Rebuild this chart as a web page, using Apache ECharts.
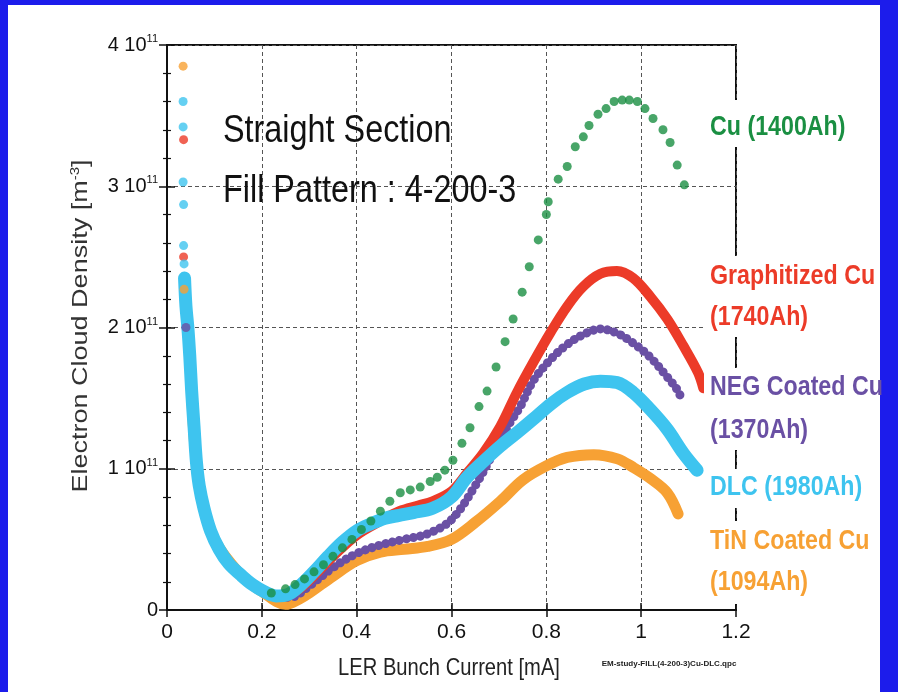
<!DOCTYPE html>
<html><head><meta charset="utf-8">
<script src="https://cdn.jsdelivr.net/npm/echarts@6/dist/echarts.min.js"></script>
<style>
html,body{margin:0;padding:0;background:#1c1ceb;}
#c{width:898px;height:692px;background:#fff;box-shadow:inset 8px 5px 0 0 #1c1ceb, inset -18px 0 0 0 #1c1ceb;}
</style>
</head><body><div id="c"></div>
<script>
// values in units of 10^11 m^-3, x in mA
const xTickLabels = ['0','0.2','0.4','0.6','0.8','1','1.2'];
const yTickLabels = ['0','1','2','3','4'];

const cyanTop = [[0.034,3.6],[0.034,3.42],[0.034,3.03],[0.035,2.87],[0.035,2.58],[0.036,2.45]];
const redTop = [[0.035,3.33],[0.035,2.5]];
const orangeTop = [[0.034,3.85],[0.036,2.27]];
const purpleTop = [[0.04,2.0]];

const cyanCurve = [[0.037,2.35],[0.040,2.15],[0.044,2.0],[0.048,1.8],[0.052,1.55],[0.057,1.3],[0.062,1.05],[0.068,0.88],[0.078,0.72],[0.092,0.56],[0.11,0.43],[0.13,0.33],[0.155,0.25],[0.18,0.18],[0.205,0.13],[0.23,0.10],[0.255,0.11],[0.28,0.17],[0.31,0.27],[0.34,0.38],[0.37,0.48],[0.40,0.56],[0.43,0.61],[0.46,0.65],[0.49,0.67],[0.52,0.69],[0.56,0.72],[0.60,0.80],[0.633,0.94],[0.67,1.06],[0.703,1.16],[0.74,1.26],[0.772,1.35],[0.81,1.46],[0.844,1.54],[0.88,1.60],[0.914,1.62],[0.949,1.61],[0.983,1.54],[1.019,1.42],[1.055,1.28],[1.089,1.11],[1.118,0.99]];

const redCurve = [[0.038,2.3],[0.045,1.95],[0.052,1.55],[0.062,1.05],[0.078,0.72],[0.11,0.43],[0.155,0.25],[0.205,0.13],[0.24,0.10],[0.27,0.13],[0.30,0.21],[0.35,0.38],[0.40,0.53],[0.45,0.63],[0.49,0.70],[0.53,0.74],[0.56,0.77],[0.60,0.84],[0.633,0.97],[0.667,1.11],[0.703,1.30],[0.738,1.54],[0.772,1.75],[0.808,1.96],[0.844,2.15],[0.878,2.29],[0.914,2.38],[0.949,2.40],[0.983,2.35],[1.019,2.22],[1.055,2.06],[1.089,1.87],[1.12,1.68],[1.131,1.57]];

const purpleCurve = [[0.040,2.0],[0.048,1.8],[0.057,1.3],[0.068,0.88],[0.092,0.56],[0.13,0.33],[0.18,0.18],[0.23,0.10],[0.26,0.09],[0.30,0.17],[0.35,0.30],[0.40,0.40],[0.45,0.46],[0.50,0.50],[0.55,0.54],[0.60,0.64],[0.65,0.88],[0.696,1.16],[0.724,1.33],[0.745,1.44],[0.772,1.62],[0.808,1.77],[0.844,1.88],[0.878,1.95],[0.914,1.99],[0.949,1.96],[0.983,1.89],[1.019,1.79],[1.055,1.65],[1.076,1.56],[1.086,1.49]];

const orangeCurve = [[0.037,2.27],[0.048,1.8],[0.062,1.05],[0.092,0.56],[0.155,0.25],[0.205,0.12],[0.25,0.04],[0.28,0.08],[0.30,0.12],[0.35,0.24],[0.40,0.35],[0.45,0.41],[0.50,0.43],[0.55,0.45],[0.60,0.50],[0.65,0.62],[0.703,0.77],[0.75,0.92],[0.80,1.02],[0.844,1.08],[0.90,1.10],[0.95,1.07],[0.983,1.01],[1.02,0.93],[1.055,0.83],[1.078,0.68]];

const greenPts = [[0.22,0.12],[0.25,0.15],[0.27,0.18],[0.29,0.22],[0.31,0.27],[0.33,0.32],[0.35,0.38],[0.37,0.44],[0.39,0.50],[0.41,0.57],[0.43,0.63],[0.45,0.70],[0.47,0.77],[0.492,0.83],[0.513,0.85],[0.534,0.87],[0.555,0.91],[0.570,0.94],[0.586,0.99],[0.603,1.06],[0.622,1.18],[0.639,1.29],[0.658,1.44],[0.675,1.55],[0.694,1.72],[0.713,1.90],[0.730,2.06],[0.749,2.25],[0.764,2.43],[0.783,2.62],[0.800,2.80],[0.804,2.89],[0.825,3.05],[0.844,3.14],[0.861,3.28],[0.878,3.35],[0.890,3.43],[0.909,3.51],[0.926,3.55],[0.943,3.60],[0.960,3.61],[0.975,3.61],[0.992,3.60],[1.008,3.55],[1.025,3.48],[1.046,3.40],[1.061,3.31],[1.076,3.15],[1.091,3.01]];

const labels = [
  {text:'Cu (1400Ah)', color:'#1a8f42', y:128},
  {text:'Graphitized Cu', color:'#ec3b28', y:277},
  {text:'(1740Ah)', color:'#ec3b28', y:318},
  {text:'NEG Coated Cu', color:'#6a50a4', y:388},
  {text:'(1370Ah)', color:'#6a50a4', y:431},
  {text:'DLC (1980Ah)', color:'#3ec4ef', y:488},
  {text:'TiN Coated Cu', color:'#f7a134', y:542},
  {text:'(1094Ah)', color:'#f7a134', y:583}
];
const labelBoxes = [[704,100,176,47],[704,256,176,81],[704,368,176,82],[704,469,176,39],[704,521,176,83]];

const sans = '"Liberation Sans", Arial, sans-serif';
const chart = echarts.init(document.getElementById('c'));

const gridLine = {show:true, lineStyle:{color:'#555', width:1, type:[4,3]}};
const axisLineStyle = {show:true, lineStyle:{color:'#111', width:2}};

const graphics = [];
labelBoxes.forEach(b => graphics.push({type:'rect', shape:{x:b[0],y:b[1],width:b[2],height:b[3]}, style:{fill:'#fff'}, z:100}));
labels.forEach(l => graphics.push({type:'text', x:710, y:l.y, scaleX:0.86, z:101,
  style:{text:l.text, fill:l.color, fontFamily:sans, fontSize:27, fontWeight:'bold', textAlign:'left', textVerticalAlign:'middle'}}));
graphics.push({type:'text', x:223, y:131, scaleX:0.83, z:101,
  style:{text:'Straight Section', fill:'#111', fontFamily:sans, fontSize:39, textAlign:'left', textVerticalAlign:'middle'}});
graphics.push({type:'text', x:223, y:191, scaleX:0.83, z:101,
  style:{text:'Fill Pattern : 4-200-3', fill:'#111', fontFamily:sans, fontSize:39, textAlign:'left', textVerticalAlign:'middle'}});
graphics.push({type:'text', x:449, y:668, scaleX:0.84, z:101,
  style:{text:'LER Bunch Current [mA]', fill:'#222', fontFamily:sans, fontSize:24, textAlign:'center', textVerticalAlign:'middle'}});
graphics.push({type:'text', x:81, y:326, rotation:Math.PI/2, scaleY:0.85, z:101,
  style:{text:'{m|Electron Cloud Density [m}{s|-3}{m|]}', fill:'#333', fontFamily:sans, fontSize:27, textAlign:'center', textVerticalAlign:'middle',
    rich:{m:{fontSize:27, fontFamily:sans, fill:'#333'}, s:{fontSize:15, fontFamily:sans, padding:[0,0,14,0], fill:'#333'}}}});
graphics.push({type:'text', x:669, y:664, z:101,
  style:{text:'EM-study-FILL(4-200-3)Cu-DLC.qpc', fill:'#222', fontFamily:sans, fontSize:8, fontWeight:'bold', textAlign:'center', textVerticalAlign:'middle'}});

chart.setOption({
  animation:false,
  grid:{left:167, right:162, top:45, bottom:82, show:true, borderColor:'#111', borderWidth:2},
  graphic:graphics,
  xAxis:[{type:'value', min:0, max:1.2, interval:0.2, axisLine:axisLineStyle,
    axisTick:{show:true, inside:true, length:7, lineStyle:{color:'#111', width:1.5}},
    splitLine:gridLine,
    axisLabel:{fontSize:21, fontFamily:sans, color:'#111', margin:12,
      formatter:(v)=>xTickLabels[Math.round(v/0.2)]}},
    {type:'value', position:'top', min:0, max:1.2, interval:0.2, axisLine:axisLineStyle,
    axisTick:{show:true, inside:true, length:7, lineStyle:{color:'#111', width:1.5}}, axisLabel:{show:false}, splitLine:{show:false}}],
  yAxis:[{type:'value', min:0, max:4, interval:1, axisLine:axisLineStyle,
    axisTick:{show:true, inside:true, length:8, lineStyle:{color:'#111', width:1.5}},
    minorTick:{show:true, splitNumber:5, length:4, lineStyle:{color:'#111', width:1.2}},
    splitLine:gridLine,
    axisLabel:{fontSize:20, fontFamily:sans, color:'#111', margin:9,
      formatter:(v)=>{const t=yTickLabels[Math.round(v)]; return t==='0' ? '0' : t+' 10{s|11}';},
      rich:{s:{fontSize:11, fontFamily:sans, color:'#111', padding:[0,0,12,0]}}}},
    {type:'value', position:'right', min:0, max:4, interval:1, axisLine:axisLineStyle,
    axisTick:{show:true, inside:true, length:8, lineStyle:{color:'#111', width:1.5}},
    minorTick:{show:true, splitNumber:5, length:4, lineStyle:{color:'#111', width:1.2}},
    axisLabel:{show:false}, splitLine:{show:false}}],
  series:[
    {name:'TiN', type:'line', data:orangeCurve, smooth:0.35, symbol:'none', z:3,
      lineStyle:{color:'#f7a134', width:11, cap:'round', join:'round'}},
    {name:'NEG', type:'line', data:purpleCurve, smooth:0.35, symbol:'none', z:4,
      lineStyle:{color:'#6a50a4', width:9, type:[0.1,7], cap:'round', join:'round'}},
    {name:'Graphitized', type:'line', data:redCurve, smooth:0.35, symbol:'none', z:5,
      lineStyle:{color:'#ec3b28', width:10, cap:'round', join:'round'}},
    {name:'DLC', type:'line', data:cyanCurve, smooth:0.35, symbol:'none', z:6,
      lineStyle:{color:'#3ec4ef', width:13, cap:'round', join:'round'}},
    {name:'Cu', type:'scatter', data:greenPts, symbolSize:9, z:7, itemStyle:{color:'#1a8f42'}},
    {type:'scatter', data:orangeTop, symbolSize:9, z:7, itemStyle:{color:'#f7a134'}},
    {type:'scatter', data:redTop, symbolSize:9, z:7, itemStyle:{color:'#ec3b28'}},
    {type:'scatter', data:purpleTop, symbolSize:9, z:7, itemStyle:{color:'#6a50a4'}},
    {type:'scatter', data:cyanTop, symbolSize:9, z:8, itemStyle:{color:'#3ec4ef'}}
  ]
});
</script>
</body></html>
